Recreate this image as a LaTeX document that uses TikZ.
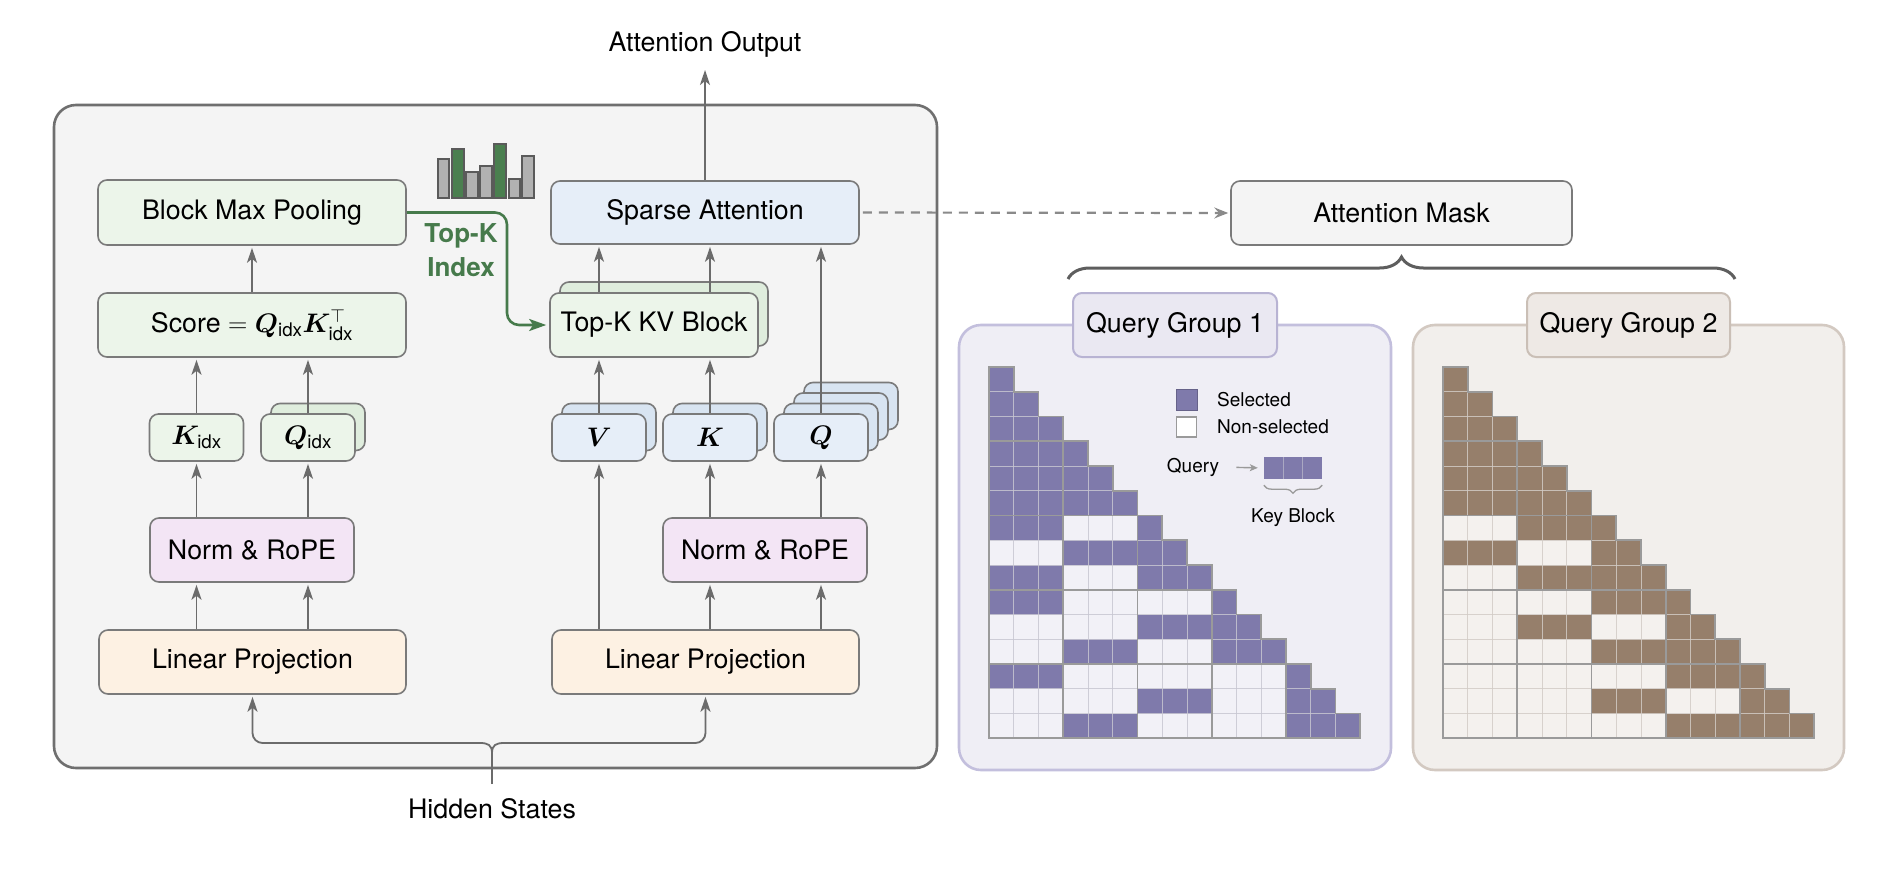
\RequirePackage{fix-cm}
\documentclass[tikz,border=0pt]{standalone}
\usepackage{amsmath}
\usepackage{bm}
\usepackage{fontspec}
\setmainfont{TeX Gyre Heros}
\usetikzlibrary{arrows.meta,decorations.pathreplacing,calc}

\definecolor{outerfill}{HTML}{F4F4F4}
\definecolor{outeredge}{HTML}{6F6F6F}
\definecolor{boxedge}{HTML}{7A7A7A}
\definecolor{gfill}{HTML}{ECF5EA}
\definecolor{gback}{HTML}{DFEDDD}
\definecolor{bfill}{HTML}{E6EEF8}
\definecolor{bback}{HTML}{D8E4F1}
\definecolor{pfill}{HTML}{F3E5F5}
\definecolor{ofill}{HTML}{FDF1E3}
\definecolor{arrgray}{HTML}{6B6B6B}
\definecolor{topkgreen}{HTML}{467A4B}
\definecolor{bargreen}{HTML}{4A7F4F}
\definecolor{bargray}{HTML}{B1B1B1}
\definecolor{baredge}{HTML}{5A5A5A}
\definecolor{dashgray}{HTML}{8A8A8A}
\definecolor{amfill}{HTML}{F4F4F4}
\definecolor{braceg}{HTML}{5E5E5E}
\definecolor{pAfill}{HTML}{EFEEF5}
\definecolor{pAedge}{HTML}{C3BFDD}
\definecolor{lAfill}{HTML}{EAE8F2}
\definecolor{lAedge}{HTML}{B8B3D3}
\definecolor{selA}{HTML}{7F7AAB}
\definecolor{nA}{HTML}{F2F1F7}
\definecolor{lnA}{HTML}{C8C7D2}
\definecolor{pBfill}{HTML}{F2EFEC}
\definecolor{pBedge}{HTML}{D3C9C1}
\definecolor{lBfill}{HTML}{EEE9E5}
\definecolor{lBedge}{HTML}{CABFB6}
\definecolor{selB}{HTML}{967F6B}
\definecolor{nB}{HTML}{F4F1EE}
\definecolor{lnB}{HTML}{D2CCC6}
\definecolor{gridgray}{HTML}{9A9A9A}

\newcommand\mainfs{\fontsize{26.8}{32}\selectfont}
\newcommand\legfs{\fontsize{19}{23}\selectfont}

\newcommand\qgrid[5]{%
\begin{scope}[shift={#1}, x=24.75pt, y=-24.75pt]
  \fill[#3] (0,0) \foreach \k in {1,...,15}{ -- (\k,\k-1) -- (\k,\k)} -- (0,15) -- cycle;
  \foreach \r in {0,...,14}{
    \pgfmathtruncatemacro\bs{3*int(\r/3)}
    \fill[#2] (\bs,\r) rectangle (\r+1,\r+1);
  }
  \foreach \r/\b in {#4}{ \fill[#2] (3*\b,\r) rectangle (3*\b+3,\r+1); }
  \foreach \r in {0,...,14}{
    \foreach \c in {0,...,\r}{
      \draw[#5, opacity=0.6, line width=0.9pt] (\c,\r) rectangle (\c+1,\r+1);
    }
  }
  \foreach \k in {1,...,4}{
    \draw[gridgray, line width=1.8pt] (0,3*\k) -- (3*\k+1,3*\k);
    \draw[gridgray, line width=1.8pt] (3*\k,3*\k-1) -- (3*\k,15);
  }
  \draw[gridgray, line width=1.8pt, line join=miter] (0,0) \foreach \k in {1,...,15}{ -- (\k,\k-1) -- (\k,\k)} -- (0,15) -- cycle;
\end{scope}}

\tikzset{
  base/.style={rounded corners=9pt, draw=boxedge, line width=1.6pt, inner sep=0pt, font=\mainfs, align=center, text=black},
  gbox/.style={base, fill=gfill},
  gbk/.style={base, fill=gback},
  bbox/.style={base, fill=bfill},
  bbk/.style={base, fill=bback},
  pbox/.style={base, fill=pfill, minimum width=204pt, minimum height=64pt},
  obox/.style={base, fill=ofill, minimum width=307pt, minimum height=64pt},
  small/.style={minimum width=94pt, minimum height=47pt},
  conn/.style={draw=arrgray, line width=1.8pt, -{Stealth[length=15pt,width=10pt,inset=4pt]}, shorten >=2pt},
  gconn/.style={draw=topkgreen, line width=2.6pt, -{Stealth[length=17pt,width=12pt,inset=4pt]}, shorten >=3pt},
  dconn/.style={draw=dashgray, line width=2.2pt, dash pattern=on 9pt off 7pt, -{Stealth[length=14pt,width=11pt,inset=5pt]}, shorten >=2pt, shorten <=3pt},
  bar/.style={draw=baredge, line width=1.3pt},
  txt/.style={font=\mainfs, inner sep=0pt},
  legtxt/.style={font=\legfs, inner sep=0pt},
}

\begin{document}
\begin{tikzpicture}[x=1pt, y=-1pt]
\useasboundingbox (0,0) rectangle (1882,878);
\fill[white] (0,0) rectangle (1882,878);

% ---------- outer box ----------
\draw[fill=outerfill, draw=outeredge, line width=2.6pt, rounded corners=22pt] (54,105) rectangle (937,768);

% ---------- left column ----------
\node[gbox, minimum width=308pt, minimum height=65pt] (bmp) at (252,212.5) {Block Max Pooling};
\node[gbox, minimum width=308pt, minimum height=64pt] (score) at (252,325) {Score $= \bm{Q}_{\text{idx}}\bm{K}_{\text{idx}}^{\top}$};
\node[gbox, small] (kidx) at (196.5,437.5) {$\bm{K}_{\text{idx}}$};
\node[gbk, small] (qidxb) at (318,427) {};
\node[gbox, small] (qidx) at (308,437.5) {$\bm{Q}_{\text{idx}}$};
\node[pbox] (normA) at (252,550) {Norm \& RoPE};
\node[obox] (lpA) at (252.5,662) {Linear Projection};

% ---------- right column ----------
\node[bbox, minimum width=308pt, minimum height=63pt] (sa) at (705,212.5) {Sparse Attention};
\node[gbk, minimum width=208pt, minimum height=64pt] (tkvb) at (664,314) {};
\node[gbox, minimum width=208pt, minimum height=64pt] (tkv) at (654,325) {Top-K KV Block};
\node[bbk, small] (vb) at (609,427) {};
\node[bbox, small] (v) at (599,437.5) {$\bm{V}$};
\node[bbk, small] (kb) at (720,427) {};
\node[bbox, small] (k) at (710,437.5) {$\bm{K}$};
\node[bbk, small] (qb3) at (851,406) {};
\node[bbk, small] (qb2) at (841,416.5) {};
\node[bbk, small] (qb1) at (831,427) {};
\node[bbox, small] (q) at (821,437.5) {$\bm{Q}$};
\node[pbox] (normB) at (765,550) {Norm \& RoPE};
\node[obox] (lpB) at (705.5,662) {Linear Projection};

% ---------- histogram ----------
\draw[bar, fill=bargray]  (438,198) rectangle (449,159);
\draw[bar, fill=bargreen] (452,198) rectangle (464,149);
\draw[bar, fill=bargray]  (466,198) rectangle (478,172);
\draw[bar, fill=bargray]  (480,198) rectangle (492,166);
\draw[bar, fill=bargreen] (494,198) rectangle (506,144);
\draw[bar, fill=bargray]  (509,198) rectangle (520,179);
\draw[bar, fill=bargray]  (522,198) rectangle (534,156);

% ---------- arrows left ----------
\draw[conn] (score.north) -- (bmp.south);
\draw[conn] (kidx.north) -- (kidx.north |- score.south);
\draw[conn] (qidx.north) -- (qidx.north |- score.south);
\draw[conn] (kidx.south |- normA.north) -- (kidx.south);
\draw[conn] (qidx.south |- normA.north) -- (qidx.south);
\draw[conn] (kidx.south |- lpA.north) -- (kidx.south |- normA.south);
\draw[conn] (qidx.south |- lpA.north) -- (qidx.south |- normA.south);

% ---------- arrows right ----------
\draw[conn] (v.north |- tkv.north) -- (v.north |- sa.south);
\draw[conn] (k.north |- tkv.north) -- (k.north |- sa.south);
\draw[conn] (v.north) -- (v.north |- tkv.south);
\draw[conn] (k.north) -- (k.north |- tkv.south);
\draw[conn] (q.north) -- (q.north |- sa.south);
\draw[conn] (v.south |- lpB.north) -- (v.south);
\draw[conn] (k.south |- normB.north) -- (k.south);
\draw[conn] (q.south |- normB.north) -- (q.south);
\draw[conn] (k.south |- lpB.north) -- (k.south |- normB.south);
\draw[conn] (q.south |- lpB.north) -- (q.south |- normB.south);

% ---------- Top-K index ----------
\draw[gconn, rounded corners=12pt] (bmp.east) -- (507,212.5) -- (507,325) -- (tkv.west);
\node[font=\fontsize{26}{34}\selectfont\bfseries, text=topkgreen, align=center, inner sep=0pt] (tkl) at (461,250) {Top-K\\Index};

% ---------- output ----------
\node[txt] (ao) at (705,44) {Attention Output};
\coordinate (aotip) at (705,70);
\draw[conn, shorten >=0pt] (sa.north) -- (aotip);

% ---------- hidden states ----------
\node[txt] (hs) at (492,809) {Hidden States};
\coordinate (hsup) at (492,784);
\coordinate (hstip) at (492,753);
\draw[draw=arrgray, line width=1.8pt] (hsup) -- (hstip);
\draw[conn] (hstip) .. controls +(0,-8) and +(8,0) .. (480,743) [rounded corners=10pt] -- (252.5,743) -- (lpA.south);
\draw[conn] (hstip) .. controls +(0,-8) and +(-8,0) .. (504,743) [rounded corners=10pt] -- (705.5,743) -- (lpB.south);

% ---------- attention mask ----------
\node[base, fill=amfill, minimum width=341pt, minimum height=64pt] (am) at (1401.5,213) {Attention Mask};
\draw[dconn] (sa.east) -- (am.west);
\coordinate (brL) at (1068,279);
\coordinate (brR) at (1735,279);
\draw[braceg, line width=3pt, decorate, decoration={brace, amplitude=22pt, aspect=0.5}] (brL) -- (brR);

% ---------- panels ----------
\draw[fill=pAfill, draw=pAedge, line width=2.6pt, rounded corners=22pt] (959,325) rectangle (1391,770);
\draw[fill=pBfill, draw=pBedge, line width=2.6pt, rounded corners=22pt] (1413,325) rectangle (1844,770);
\node[base, fill=lAfill, draw=lAedge, line width=2pt, minimum width=204pt, minimum height=64pt] (qg1) at (1175,325) {Query Group 1};
\node[base, fill=lBfill, draw=lBedge, line width=2pt, minimum width=203pt, minimum height=64pt] (qg2) at (1628.5,325) {Query Group 2};

\qgrid{(989,367)}{selA}{nA}{3/0,4/0,5/0,6/0,7/1,8/0,9/0,10/2,11/1,12/0,13/2,14/1}{lnA}
\qgrid{(1443,367)}{selB}{nB}{3/0,4/0,5/0,6/1,7/0,8/1,9/2,10/1,11/2,12/3,13/2,14/3}{lnB}

% ---------- legend ----------
\node[draw=selA!80!black, fill=selA, line width=0.6pt, minimum size=21pt, inner sep=0pt] (lsel) at (1186.5,400) {};
\node[draw=gridgray, fill=white, line width=1.2pt, minimum size=20pt, inner sep=0pt] (lnon) at (1186.5,427) {};
\node[legtxt, anchor=west] (tsel) at (1217,400) {Selected};
\node[legtxt, anchor=west] (tnon) at (1217,427) {Non-selected};
\node[legtxt] (tq) at (1193,467) {Query};
\node[fill=selA, minimum width=58pt, minimum height=22pt, inner sep=0pt] (kblk) at (1293,468) {};
\draw[lnA, opacity=0.6, line width=0.9pt] (1283.3,457) -- (1283.3,479) (1302.7,457) -- (1302.7,479);
\draw[draw=gridgray, line width=1.4pt, -{Stealth[length=8pt,width=7pt,inset=2pt]}, shorten <=17pt, shorten >=6pt] (tq.east) -- (kblk.west);
\draw[gridgray, line width=1.3pt, decorate, decoration={brace, amplitude=8pt, mirror}] ($(kblk.south west)+(0,6)$) -- ($(kblk.south east)+(0,6)$);
\node[legtxt] (tkb) at (1293,518) {Key Block};

\end{tikzpicture}
\end{document}
